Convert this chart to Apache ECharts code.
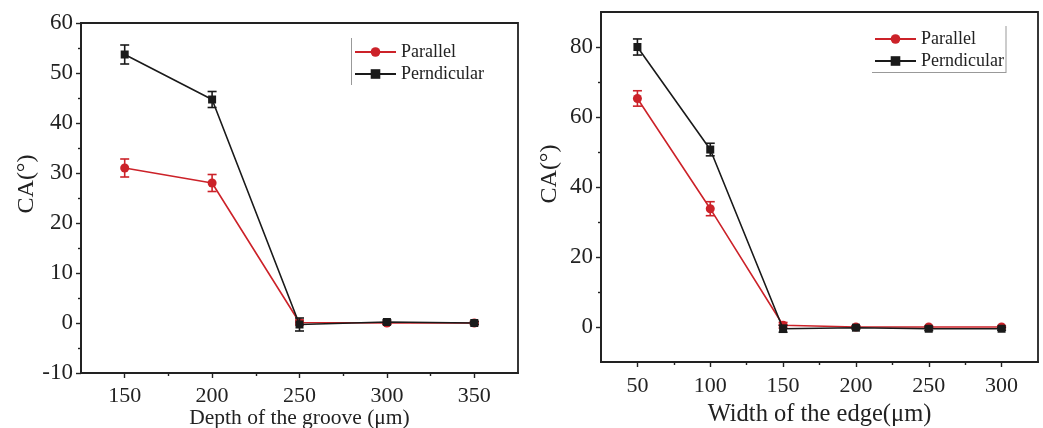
<!DOCTYPE html>
<html>
<head>
<meta charset="utf-8">
<script src="https://cdn.jsdelivr.net/npm/echarts@6/dist/echarts.min.js"></script>
<style>
html,body{margin:0;padding:0;background:#fff;}
#main{width:1043px;height:428px;}
</style>
</head>
<body>
<div id="main"></div>
<script>
// ---- data ----
const leftX = [150, 200, 250, 300, 350];
const leftParallel = [31.0, 28.0, 0.1, 0.0, 0.0];
const leftParallelErr = [1.8, 1.7, 0.5, 0.3, 0.3];
const leftPerp = [53.7, 44.7, -0.3, 0.2, 0.0];
const leftPerpErr = [1.9, 1.6, 1.3, 0.4, 0.3];
const leftXTicks = [150, 200, 250, 300, 350];
const leftXMinor = [175, 225, 275, 325];

const rightX = [50, 100, 150, 200, 250, 300];
const rightParallel = [65.3, 33.8, 0.5, 0.0, 0.0, 0.0];
const rightParallelErr = [2.2, 2.0, 0.8, 0.3, 0.3, 0.3];
const rightPerp = [80.0, 50.7, -0.5, -0.2, -0.5, -0.5];
const rightPerpErr = [2.3, 1.8, 1.0, 0.4, 0.5, 0.4];
const rightXTicks = [50, 100, 150, 200, 250, 300];
const rightXMinor = [75, 125, 175, 225, 275];
const rightYTicks = [0, 20, 40, 60, 80];
const rightYMinor = [10, 30, 50, 70];

const seriesNames = ['Parallel', 'Perndicular'];
const RED = '#cc2229';
const BLACK = '#1a1a1a';
const FONT = 'Liberation Serif';
const TXT = '#222';

function pairs(xs, ys) { return xs.map((x, i) => [x, ys[i]]); }
function errData(xs, ys, es) { return xs.map((x, i) => [x, ys[i] - es[i], ys[i] + es[i]]); }

function errSeries(name, xi, yi, data, color, z) {
  return {
    type: 'custom', name: name + ' err', xAxisIndex: xi, yAxisIndex: yi, z: z,
    data: data, encode: { x: 0, y: [1, 2] }, silent: true,
    renderItem: function (params, api) {
      const x = api.value(0);
      const lo = api.coord([x, api.value(1)]);
      const hi = api.coord([x, api.value(2)]);
      const w = 4.5;
      const st = { stroke: color, lineWidth: 1.6 };
      return {
        type: 'group', children: [
          { type: 'line', shape: { x1: lo[0], y1: lo[1], x2: hi[0], y2: hi[1] }, style: st },
          { type: 'line', shape: { x1: lo[0] - w, y1: lo[1], x2: lo[0] + w, y2: lo[1] }, style: st },
          { type: 'line', shape: { x1: hi[0] - w, y1: hi[1], x2: hi[0] + w, y2: hi[1] }, style: st }
        ]
      };
    }
  };
}

function lineSeries(name, xi, yi, data, color, symbol, size, z) {
  return {
    type: 'line', name: name, xAxisIndex: xi, yAxisIndex: yi, z: z,
    data: data, symbol: symbol, symbolSize: size, showSymbol: true,
    lineStyle: { color: color, width: 1.6 },
    itemStyle: { color: color },
    emphasis: { disabled: true }
  };
}

const axisLineStyle = { onZero: false, lineStyle: { color: '#222', width: 1.8 } };
const labelStyle = { fontFamily: FONT, fontSize: 22, color: TXT };
const yLabelStyle = { fontFamily: FONT, fontSize: 23, color: TXT };
const tickLine = { color: '#222', width: 1.4 };

const option = {
  backgroundColor: '#fff',
  animation: false,
  textStyle: { fontFamily: FONT },
  grid: [
    { left: 81, top: 23, width: 437, height: 350, containLabel: false, outerBoundsMode: 'none',
      show: true, borderColor: '#222', borderWidth: 1.8, backgroundColor: 'transparent' },
    { left: 601, top: 12, width: 437, height: 350, containLabel: false, outerBoundsMode: 'none',
      show: true, borderColor: '#222', borderWidth: 1.8, backgroundColor: 'transparent' }
  ],
  xAxis: [
    { type: 'value', gridIndex: 0, min: 125, max: 375,
      name: 'Depth of the groove (μm)', nameLocation: 'middle', nameGap: 34, nameMoveOverlap: false,
      nameTextStyle: { fontFamily: FONT, fontSize: 21.5, color: TXT },
      axisLine: axisLineStyle, splitLine: { show: false },
      axisTick: { show: true, length: 5, lineStyle: tickLine, customValues: leftXTicks },
      axisLabel: Object.assign({ margin: 12, customValues: leftXTicks }, labelStyle) },
    { type: 'value', gridIndex: 0, min: 125, max: 375, position: 'bottom', offset: 0,
      axisLine: { show: false, onZero: false }, splitLine: { show: false },
      axisTick: { show: true, length: 3, lineStyle: tickLine, customValues: leftXMinor },
      axisLabel: { show: false } },
    { type: 'value', gridIndex: 1, min: 25, max: 325,
      name: 'Width of the edge(μm)', nameLocation: 'middle', nameGap: 40,
      nameTextStyle: { fontFamily: FONT, fontSize: 24.5, color: TXT },
      axisLine: axisLineStyle, splitLine: { show: false },
      axisTick: { show: true, length: 5, lineStyle: tickLine, customValues: rightXTicks },
      axisLabel: Object.assign({ margin: 13, customValues: rightXTicks }, labelStyle) },
    { type: 'value', gridIndex: 1, min: 25, max: 325, position: 'bottom', offset: 0,
      axisLine: { show: false, onZero: false }, splitLine: { show: false },
      axisTick: { show: true, length: 3, lineStyle: tickLine, customValues: rightXMinor },
      axisLabel: { show: false } }
  ],
  yAxis: [
    { type: 'value', gridIndex: 0, min: -10, max: 60, interval: 10,
      name: 'CA(°)', nameLocation: 'middle', nameGap: 36, nameRotate: 90,
      nameTextStyle: { fontFamily: FONT, fontSize: 24, color: TXT, padding: [0, 0, 0, 28] },
      axisLine: axisLineStyle, splitLine: { show: false },
      axisTick: { show: true, length: 5, lineStyle: tickLine },
      minorTick: { show: true, splitNumber: 2, length: 3, lineStyle: tickLine },
      minorSplitLine: { show: false },
      axisLabel: Object.assign({ margin: 8 }, yLabelStyle) },
    { type: 'value', gridIndex: 1, min: -10, max: 90,
      name: 'CA(°)', nameLocation: 'middle', nameGap: 39, nameRotate: 90,
      nameTextStyle: { fontFamily: FONT, fontSize: 24, color: TXT, padding: [0, 0, 0, 26] },
      axisLine: axisLineStyle, splitLine: { show: false },
      axisTick: { show: true, length: 5, lineStyle: tickLine, customValues: rightYTicks },
      axisLabel: Object.assign({ margin: 8, customValues: rightYTicks }, yLabelStyle) },
    { type: 'value', gridIndex: 1, min: -10, max: 90, position: 'left', offset: 0,
      axisLine: { show: false, onZero: false }, splitLine: { show: false },
      axisTick: { show: true, length: 3, lineStyle: tickLine, customValues: rightYMinor },
      axisLabel: { show: false } }
  ],
  legend: [
    { data: seriesNames, orient: 'vertical', left: 354, top: 43, padding: 0, itemWidth: 41, itemHeight: 12, itemGap: 4,
      textStyle: { fontFamily: FONT, fontSize: 18, color: TXT, lineHeight: 18 }, selectedMode: false },
    { data: seriesNames, orient: 'vertical', left: 874, top: 30, padding: 0, itemWidth: 41, itemHeight: 12, itemGap: 4,
      textStyle: { fontFamily: FONT, fontSize: 18, color: TXT, lineHeight: 18 }, selectedMode: false }
  ],
  graphic: [
    { type: 'line', shape: { x1: 351.5, y1: 38, x2: 351.5, y2: 85 }, style: { stroke: '#999', lineWidth: 1 } },
    { type: 'line', shape: { x1: 1006, y1: 26, x2: 1006, y2: 73 }, style: { stroke: '#999', lineWidth: 1 } },
    { type: 'line', shape: { x1: 872, y1: 72.5, x2: 1006, y2: 72.5 }, style: { stroke: '#999', lineWidth: 1 } }
  ],
  series: [
    errSeries('Parallel', 0, 0, errData(leftX, leftParallel, leftParallelErr), RED, 2),
    lineSeries('Parallel', 0, 0, pairs(leftX, leftParallel), RED, 'circle', 9, 3),
    errSeries('Perndicular', 0, 0, errData(leftX, leftPerp, leftPerpErr), BLACK, 4),
    lineSeries('Perndicular', 0, 0, pairs(leftX, leftPerp), BLACK, 'rect', 8, 5),
    errSeries('Parallel', 2, 1, errData(rightX, rightParallel, rightParallelErr), RED, 2),
    lineSeries('Parallel', 2, 1, pairs(rightX, rightParallel), RED, 'circle', 9, 3),
    errSeries('Perndicular', 2, 1, errData(rightX, rightPerp, rightPerpErr), BLACK, 4),
    lineSeries('Perndicular', 2, 1, pairs(rightX, rightPerp), BLACK, 'rect', 8, 5)
  ]
};

const chart = echarts.init(document.getElementById('main'), null, { renderer: 'canvas' });
chart.setOption(option);
</script>
</body>
</html>
